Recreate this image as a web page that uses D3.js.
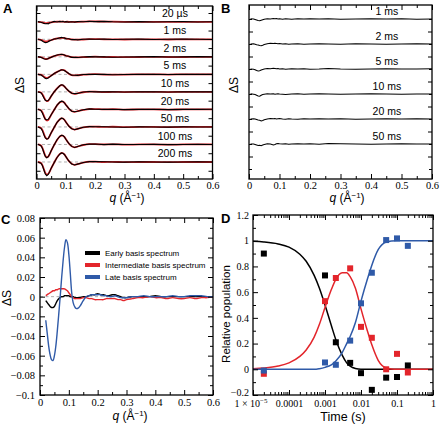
<!DOCTYPE html>
<html><head><meta charset="utf-8">
<script src="https://cdn.jsdelivr.net/npm/d3@7"></script>
<style>body{margin:0;background:#fff}svg{display:block}</style>
</head><body>
<svg id="chart" width="440" height="425"></svg>
<script>
// ---------------- DATA ----------------
const qGrid = [0.005,0.015,0.02,0.025,0.03,0.035,0.04,0.045,0.05,0.06,0.07,0.08,0.085,0.09,0.095,0.1,0.11,0.12,0.13,0.14,0.16,0.18,0.2,0.23,0.26,0.3,0.35,0.4,0.45,0.5,0.55,0.6];
const timesA = ["20 µs","1 ms","2 ms","5 ms","10 ms","20 ms","50 ms","100 ms","200 ms"];
const fit20us = [0,-0.002,-0.004,-0.006,-0.008,-0.008,-0.007,-0.005,-0.003,0,0.001,0.001,0.001,0.001,0,0,0,-0.001,-0.001,0,0.001,0.002,0.002,0.001,0.001,0,0,0,0,0,0,0];
const fit1ms = [0,-0.003,-0.006,-0.01,-0.012,-0.012,-0.01,-0.007,-0.004,0.001,0.005,0.007,0.008,0.008,0.007,0.005,0.002,-0.001,-0.002,-0.002,-0.001,0.001,0.001,0,0,-0.001,0,0,-0.001,0,0,0];
const fit2ms = [0,-0.002,-0.005,-0.009,-0.012,-0.012,-0.01,-0.006,-0.002,0.004,0.009,0.012,0.013,0.012,0.01,0.007,0.002,-0.002,-0.003,-0.003,-0.002,0,0.001,-0.001,-0.001,-0.002,-0.001,0,-0.001,-0.001,0,0];
const fit5ms = [0,-0.002,-0.006,-0.012,-0.018,-0.02,-0.018,-0.013,-0.007,0.004,0.014,0.022,0.025,0.026,0.023,0.017,0.004,-0.004,-0.006,-0.005,-0.002,0,0.001,-0.001,-0.001,-0.001,0,0,-0.001,0,0,0];
const fit10ms = [0,-0.004,-0.013,-0.029,-0.045,-0.052,-0.05,-0.039,-0.025,-0.001,0.02,0.035,0.038,0.037,0.031,0.022,0.004,-0.007,-0.011,-0.008,-0.002,0.001,0.001,-0.001,0,-0.001,0,0,-0.001,0,0,0];
const fit20ms = [0,-0.005,-0.016,-0.035,-0.055,-0.063,-0.06,-0.047,-0.031,-0.003,0.023,0.041,0.045,0.044,0.038,0.027,0.005,-0.009,-0.014,-0.01,-0.003,0.002,0.002,0,0.001,-0.001,0,0,-0.001,0,0,0];
const fit50ms = [0,-0.006,-0.017,-0.038,-0.059,-0.068,-0.065,-0.051,-0.034,-0.004,0.025,0.044,0.049,0.048,0.041,0.029,0.006,-0.009,-0.015,-0.011,-0.003,0.002,0.002,0,0.001,-0.001,0,0,-0.001,0,0,0];
const fit100ms = [0,-0.006,-0.019,-0.042,-0.064,-0.073,-0.069,-0.055,-0.037,-0.004,0.026,0.046,0.051,0.05,0.043,0.031,0.006,-0.01,-0.016,-0.012,-0.003,0.002,0.002,0,0.001,-0.001,0,0,-0.001,0,0,0];
const fit200ms = [0,-0.006,-0.018,-0.04,-0.062,-0.072,-0.068,-0.054,-0.036,-0.004,0.026,0.046,0.051,0.05,0.043,0.031,0.006,-0.01,-0.016,-0.012,-0.003,0.002,0.002,0,0.001,-0.001,0,0,-0.001,0,0,0];
const dat20us = [0.001,-0.003,-0.006,-0.009,-0.011,-0.01,-0.012,-0.006,-0.004,0.002,-0.001,0.002,0,0.002,-0.001,0.001,-0.002,0,-0.002,0.001,0,0.003,0.001,0.002,0,-0.001,0.001,-0.001,0,0.001,-0.001,0];
const dat1ms = [0,-0.004,-0.01,-0.016,-0.019,-0.018,-0.014,-0.008,-0.005,0.002,0.004,0.009,0.011,0.009,0.008,0.004,0.003,-0.002,-0.001,-0.003,0,0.002,0,0.001,-0.001,0,0.001,-0.001,0,0.001,0,-0.001];
const dat2ms = [0.001,-0.003,-0.007,-0.011,-0.014,-0.013,-0.01,-0.005,-0.003,0.005,0.01,0.013,0.015,0.013,0.011,0.006,0.003,-0.003,-0.002,-0.004,-0.001,0.001,0,0,-0.002,-0.001,0,0.001,-0.001,0,0.001,0];
const dat5ms = [0,-0.003,-0.009,-0.016,-0.023,-0.025,-0.021,-0.014,-0.008,0.005,0.013,0.022,0.026,0.025,0.022,0.016,0.005,-0.005,-0.005,-0.006,-0.001,0.001,0,0,-0.002,-0.001,0.001,0,-0.001,0.001,0,0];
const dat10ms = [0,-0.005,-0.016,-0.033,-0.048,-0.052,-0.049,-0.038,-0.024,0,0.019,0.036,0.04,0.039,0.031,0.021,0.005,-0.008,-0.01,-0.009,-0.001,0.002,0,0,0.001,-0.001,0.001,0,-0.001,0,0.001,0];
const dat20ms = [0.001,-0.006,-0.02,-0.04,-0.056,-0.06,-0.057,-0.045,-0.03,-0.003,0.024,0.042,0.047,0.045,0.038,0.026,0.006,-0.01,-0.013,-0.01,-0.002,0.003,0.001,0,0.001,-0.001,0,0.001,-0.001,0,0,0.001];
const dat50ms = [0,-0.007,-0.021,-0.043,-0.063,-0.07,-0.066,-0.05,-0.033,-0.003,0.026,0.045,0.05,0.048,0.041,0.028,0.005,-0.01,-0.016,-0.011,-0.002,0.002,0.001,0.001,0,-0.002,0.001,0,-0.001,0.001,0,0];
const dat100ms = [0.001,-0.007,-0.022,-0.046,-0.068,-0.076,-0.07,-0.054,-0.036,-0.003,0.027,0.047,0.052,0.051,0.043,0.03,0.006,-0.011,-0.017,-0.012,-0.002,0.002,0.003,-0.001,0.002,0,0,0.001,-0.001,0,0.001,0];
const dat200ms = [0,-0.007,-0.02,-0.044,-0.068,-0.078,-0.071,-0.055,-0.035,-0.004,0.026,0.046,0.052,0.05,0.043,0.031,0.006,-0.011,-0.017,-0.012,-0.003,0.002,0.002,0.001,0,-0.001,0.001,0,-0.001,0,0.001,0];
const timesB = ["1 ms","2 ms","5 ms","10 ms","20 ms","50 ms"];
const res1ms = [0.001,0,-0.002,-0.004,-0.006,-0.007,-0.005,-0.003,-0.001,0.001,0,0.002,0.001,0.002,0,0.001,-0.001,0.001,0,-0.001,0.001,0,0.001,0,0.001,-0.001,0,0.001,0,0.001,-0.001,0];
const res2ms = [0,0.001,-0.001,-0.003,-0.004,-0.006,-0.007,-0.005,-0.002,0.001,0.003,0.002,0.003,0.002,0.001,0.002,0,0.001,-0.001,0,0.001,-0.001,0,0.001,0,-0.001,0.001,0,-0.001,0,0.001,0];
const res5ms = [0,-0.001,-0.003,-0.006,-0.008,-0.007,-0.004,-0.002,0,0.002,0.001,0.003,0.002,0.001,0.002,0,0.001,-0.001,0,0.001,0,0.001,-0.001,0,0.002,0,-0.001,0,0.001,0,0,0.001];
const res10ms = [0.001,-0.001,-0.002,-0.005,-0.008,-0.009,-0.005,-0.002,-0.001,0.001,0,0.001,-0.001,0,0.001,0,-0.001,-0.002,-0.001,0,0.001,-0.001,0,0.001,0,-0.001,0,0.001,0,-0.001,0,0];
const res20ms = [0,0.001,0,-0.002,-0.004,-0.005,-0.008,-0.006,-0.003,0,0.002,0.001,0.002,0,0.001,0.002,0,-0.001,0.001,0,-0.001,0.001,0,0.001,0,0.001,-0.001,0,0.001,0,0.001,0];
const res50ms = [0,0,-0.002,-0.004,-0.006,-0.005,-0.007,-0.004,-0.002,0.001,0,-0.004,-0.002,0.001,0.002,0.001,0,0.001,-0.001,0,0.001,0,0.001,-0.001,0.002,0.001,0,-0.001,0,0.001,0,0];
const qC = [0.02,0.025,0.03,0.035,0.04,0.045,0.05,0.055,0.06,0.065,0.07,0.075,0.08,0.085,0.09,0.095,0.1,0.105,0.11,0.115,0.12,0.125,0.13,0.135,0.14,0.15,0.16,0.17,0.18,0.19,0.2,0.21,0.22,0.23,0.24,0.25,0.26,0.27,0.28,0.29,0.3,0.32,0.34,0.36,0.38,0.4,0.42,0.44,0.46,0.48,0.5,0.52,0.54,0.56,0.58,0.6];
const earlyBasis = [-0.004,-0.006,-0.008,-0.01,-0.011,-0.011,-0.01,-0.007,-0.004,-0.002,-0.001,0,0,0.001,0.001,0.001,0.001,0,0,0,-0.001,-0.001,-0.001,-0.001,-0.001,0,0,0.001,0.002,0.002,0.003,0.002,0.002,0.001,0.001,0.002,0.002,0.001,0,-0.001,-0.001,0,0,0,0,0.001,0,0,0,0,0,0,0,0,0,0];
const intermediateBasis = [0.001,0.002,0.003,0.004,0.005,0.006,0.006,0.007,0.007,0.008,0.008,0.008,0.008,0.008,0.007,0.006,0.004,0.002,0,-0.001,-0.002,-0.002,-0.002,-0.002,-0.002,-0.001,-0.001,-0.002,-0.002,-0.003,-0.003,-0.003,-0.003,-0.002,-0.002,-0.002,-0.002,-0.003,-0.003,-0.004,-0.003,-0.002,-0.001,-0.001,0,-0.001,-0.001,-0.002,-0.001,-0.002,-0.002,-0.001,-0.002,-0.001,-0.001,0];
const lateBasis = [-0.024,-0.037,-0.05,-0.059,-0.064,-0.065,-0.06,-0.05,-0.035,-0.018,0,0.019,0.036,0.05,0.058,0.055,0.043,0.024,0.004,-0.006,-0.01,-0.012,-0.012,-0.011,-0.009,-0.004,0,0.001,0.002,0.002,0.002,0.002,0.001,0.001,0,0,0.001,0,-0.001,-0.001,-0.001,0,0,0.001,0,0,0,0,0.001,0,0,0.001,0.001,0.001,0,0];
const legendC = ["Early basis spectrum","Intermediate basis spectrum","Late basis spectrum"];
const timesD = [2e-5,1e-3,2e-3,5e-3,0.01,0.02,0.05,0.1,0.2];
const earlyPop = [0.90,0.73,0.21,0.05,-0.03,-0.16,-0.065,-0.06,0.03];
const intermediatePop = [-0.035,0.53,0.71,0.785,0.33,0.245,0.0,0.12,-0.025];
const latePop = [-0.01,0.053,0.035,0.223,0.513,0.751,1.005,1.018,0.96];
const fitTimes = [1e-5,2e-5,5e-5,1e-4,2e-4,3e-4,5e-4,7e-4,1e-3,1.5e-3,2e-3,3e-3,4e-3,5e-3,7e-3,1e-2,1.5e-2,2e-2,3e-2,5e-2,7e-2,0.1,0.2,0.5,1];
const earlyFit = [0.995,0.99,0.975,0.95,0.895,0.84,0.73,0.63,0.5,0.34,0.23,0.11,0.05,0.025,0.006,0,0,0,0,0,0,0,0,0,0];
const intermediateFit = [0.005,0.01,0.025,0.05,0.1,0.15,0.25,0.35,0.48,0.62,0.7,0.75,0.75,0.72,0.63,0.47,0.3,0.19,0.07,0.01,0.002,0,0,0,0];
const lateFit = [0,0,0,0,0,0,0,0.005,0.015,0.035,0.065,0.13,0.2,0.255,0.364,0.53,0.7,0.81,0.93,0.99,0.998,1,1,1,1];
const qTicks = [0,0.1,0.2,0.3,0.4,0.5,0.6];
const yTicksC = [-0.1,-0.08,-0.06,-0.04,-0.02,0,0.02,0.04,0.06,0.08];
const yTicksD = [-0.2,0,0.2,0.4,0.6,0.8,1,1.2];
const xTicksD = [1e-5,1e-4,1e-3,1e-2,0.1,1];
const xTickLabelsD = ["1 × 10^-5","0.0001","0.001","0.01","0.1","1"];

// ---------------- DRAWING ----------------
const svg = d3.select("#chart");
const SERIF = "'Liberation Serif','DejaVu Serif','Times New Roman',serif";
const SANS = "'Liberation Sans',Arial,Helvetica,sans-serif";
const RED = "#e3252b", BLUE = "#2f5aa8", GRAY = "#9a9a9a";

function drawAxes(o){
  const g = svg.append("g");
  const [x0,x1] = o.x.range(), [y0,y1] = o.y.range();
  const mk = (fn, scale, vals, len, fmt, tr, pad) => {
    const a = fn(scale).tickValues(vals).tickSize(-len).tickSizeOuter(0).tickPadding(pad||4)
      .tickFormat(fmt || (() => ""));
    const ag = g.append("g").attr("transform", tr).call(a);
    ag.select(".domain").remove();
    ag.attr("font-family",null).attr("font-size",null);
    ag.selectAll("line").attr("stroke","#000").attr("stroke-width",1);
    ag.selectAll("text").style("font-family",SERIF).style("font-size",(o.fs||11)+"px").attr("fill","#000");
    return ag;
  };
  const bx = mk(d3.axisBottom, o.x, o.xMajor, 5, o.xFmt, `translate(0,${y0})`, o.xPad);
  if (o.xMinor) mk(d3.axisBottom, o.x, o.xMinor, 3, null, `translate(0,${y0})`);
  mk(d3.axisTop, o.x, o.xMajor, 5, null, `translate(0,${y1})`);
  if (o.xMinor) mk(d3.axisTop, o.x, o.xMinor, 3, null, `translate(0,${y1})`);
  const ly = mk(d3.axisLeft, o.y, o.yMajor, o.yLen||5, o.yFmt, `translate(${x0},0)`, o.yPad);
  if (o.yMinor) mk(d3.axisLeft, o.y, o.yMinor, 3, null, `translate(${x0},0)`);
  mk(d3.axisRight, o.y, o.yMajor, o.yLen||5, null, `translate(${x1},0)`);
  if (o.yMinor) mk(d3.axisRight, o.y, o.yMinor, 3, null, `translate(${x1},0)`);
  g.append("rect").attr("x",x0).attr("y",y1).attr("width",x1-x0).attr("height",y0-y1)
    .attr("fill","none").attr("stroke","#000").attr("stroke-width",1.3);
  return {g, bx, ly};
}
function qTitle(cx, y){
  const t = svg.append("text").attr("x",cx).attr("y",y).attr("text-anchor","middle")
    .style("font-family",SANS).style("font-size","12px").attr("fill","#000");
  t.append("tspan").attr("font-style","italic").text("q");
  t.append("tspan").text(" (Å");
  t.append("tspan").style("font-size","8px").attr("dy",-4.5).text("−1");
  t.append("tspan").attr("dy",4.5).text(")");
}
function yTitle(x, cy, txt, fs){
  svg.append("text").attr("transform",`translate(${x},${cy}) rotate(-90)`).attr("text-anchor","middle")
    .style("font-family",SANS).style("font-size",(fs||12)+"px").attr("fill","#000").text(txt);
}
function letter(x,y,t){
  svg.append("text").attr("x",x).attr("y",y).style("font-family",SANS).attr("font-weight","bold")
    .style("font-size","13px").attr("fill","#000").text(t);
}
const qFmt = d => d === 0 ? "0" : String(d);
const qMinor = [0.05,0.15,0.25,0.35,0.45,0.55];

// ---- Panel A ----
const xA = d3.scaleLinear().domain([0,0.6]).range([36.5,212.5]);
const yA = d3.scaleLinear().domain([-0.897,0.09]).range([179,6]);
const fitsA = [fit20us,fit1ms,fit2ms,fit5ms,fit10ms,fit20ms,fit50ms,fit100ms,fit200ms];
const datsA = [dat20us,dat1ms,dat2ms,dat5ms,dat10ms,dat20ms,dat50ms,dat100ms,dat200ms];
const gA = svg.append("g");
timesA.forEach((lab,i) => {
  const off = -0.1*i;
  gA.append("line").attr("x1",xA(0)).attr("x2",xA(0.6)).attr("y1",yA(off)).attr("y2",yA(off))
    .attr("stroke",GRAY).attr("stroke-width",0.8).attr("stroke-dasharray","3,2.5");
  const lf = d3.line().x((d,j)=>xA(qGrid[j])).y(d=>yA(d+off)).curve(d3.curveCatmullRom.alpha(0.5));
  const ld = d3.line().x((d,j)=>xA(qGrid[j])).y(d=>yA(d+off));
  gA.append("path").attr("d",lf(fitsA[i])).attr("fill","none").attr("stroke",RED).attr("stroke-width",1.8);
  gA.append("path").attr("d",ld(datsA[i])).attr("fill","none").attr("stroke","#000").attr("stroke-width",1.1);
  gA.append("text").attr("x",xA(0.472)).attr("y",yA(off+0.028)).attr("text-anchor","middle")
    .style("font-family",SANS).style("font-size","10.5px").attr("fill","#000").text(lab);
});
drawAxes({x:xA,y:yA,xMajor:qTicks,xMinor:qMinor,xFmt:qFmt,xPad:3,fs:10.5,
  yMajor:[0.05,-0.05,-0.15,-0.25,-0.35,-0.45,-0.55,-0.65,-0.75,-0.85],yLen:4});
qTitle(127,202);
yTitle(24,85,"ΔS");
letter(3,13,"A");

// ---- Panel B ----
const xB = d3.scaleLinear().domain([0,0.6]).range([249,432]);
const yB = d3.scaleLinear().domain([-0.64,0.056]).range([179,5]);
const resB = [res1ms,res2ms,res5ms,res10ms,res20ms,res50ms];
timesB.forEach((lab,i) => {
  const off = -0.1*i;
  const ld = d3.line().x((d,j)=>xB(qGrid[j])).y(d=>yB(d+off));
  svg.append("path").attr("d",ld(resB[i])).attr("fill","none").attr("stroke","#000").attr("stroke-width",1.1);
  svg.append("text").attr("x",xB(0.452)).attr("y",yB(off+0.016)).attr("text-anchor","middle")
    .style("font-family",SANS).style("font-size","10.5px").attr("fill","#000").text(lab);
});
drawAxes({x:xB,y:yB,xMajor:qTicks,xMinor:qMinor,xFmt:qFmt,xPad:3,fs:10.5,
  yMajor:[-0.05,-0.15,-0.25,-0.35,-0.45,-0.55],yMinor:[0,-0.1,-0.2,-0.3,-0.4,-0.5,-0.6],yLen:4});
qTitle(347,202);
yTitle(238,85,"ΔS");
letter(221,13,"B");

// ---- Panel C ----
const xC = d3.scaleLinear().domain([0,0.6]).range([40,213]);
const yC = d3.scaleLinear().domain([-0.1,0.08]).range([395,218]);
svg.append("line").attr("x1",xC(0)).attr("x2",xC(0.6)).attr("y1",yC(0)).attr("y2",yC(0))
  .attr("stroke",GRAY).attr("stroke-width",0.8).attr("stroke-dasharray","3,2.5");
const lineC = d3.line().x((d,j)=>xC(qC[j])).y(d=>yC(d)).curve(d3.curveCatmullRom.alpha(0.5));
[[earlyBasis,"#000"],[intermediateBasis,RED],[lateBasis,BLUE]].forEach(([arr,c]) => {
  svg.append("path").attr("d",lineC(arr)).attr("fill","none").attr("stroke",c).attr("stroke-width",1.4);
});
const legColors = ["#000",RED,BLUE];
legendC.forEach((t,i) => {
  const yy = 253 + i*12;
  svg.append("line").attr("x1",85).attr("x2",100).attr("y1",yy).attr("y2",yy).attr("stroke",legColors[i]).attr("stroke-width",4);
  svg.append("text").attr("x",105).attr("y",yy+3).style("font-family",SANS).style("font-size","8px").attr("fill","#000").text(t);
});
const fmtSigned = d => { const r = Math.round(d*100)/100; return r === 0 ? "0" : (r<0?"−":"") + String(Math.abs(r)); };
drawAxes({x:xC,y:yC,xMajor:qTicks,xMinor:qMinor,xFmt:qFmt,xPad:4,fs:10.5,
  yMajor:yTicksC,yMinor:[-0.09,-0.07,-0.05,-0.03,-0.01,0.01,0.03,0.05,0.07],yFmt:fmtSigned,yPad:5});
qTitle(130,420);
yTitle(11,298,"ΔS");
letter(1,224,"C");

// ---- Panel D ----
const xD = d3.scaleLog().domain([1e-5,1]).range([253,433]);
const yD = d3.scaleLinear().domain([-0.2,1.2]).range([395,215]);
const minorD = [];
[1e-5,1e-4,1e-3,1e-2,1e-1].forEach(dec => { for (let k=2;k<=9;k++) minorD.push(dec*k); });
const lineD = d3.line().x((d,j)=>xD(fitTimes[j])).y(d=>yD(d)).curve(d3.curveMonotoneX);
[[earlyFit,"#000"],[intermediateFit,RED],[lateFit,BLUE]].forEach(([arr,c]) => {
  svg.append("path").attr("d",lineD(arr)).attr("fill","none").attr("stroke",c).attr("stroke-width",1.5);
});
[[earlyPop,"#000"],[intermediatePop,RED],[latePop,BLUE]].forEach(([arr,c]) => {
  svg.append("g").selectAll("rect").data(arr).join("rect")
    .attr("x",(d,j)=>xD(timesD[j])-3).attr("y",d=>yD(d)-3).attr("width",6).attr("height",6).attr("fill",c);
});
const axD = drawAxes({x:xD,y:yD,xMajor:xTicksD,xMinor:minorD,xFmt:(d,i)=>xTickLabelsD[i],xPad:5,fs:10,
  yMajor:yTicksD,yMinor:[-0.1,0.1,0.3,0.5,0.7,0.9,1.1],yFmt:fmtSigned,yPad:4});
axD.ly.selectAll("text").filter(d => d === -0.2).attr("dy","0.05em");
axD.bx.selectAll("text").filter(d => d === 1e-5).each(function(){
  const t = d3.select(this); t.text(null).attr("text-anchor","end").attr("x",14);
  t.append("tspan").text("1 × 10");
  t.append("tspan").style("font-size","7px").attr("dy",-4).text("−5");
});
svg.append("text").attr("x",343).attr("y",421).attr("text-anchor","middle").style("font-family",SANS)
  .style("font-size","12.5px").attr("fill","#000").text("Time (s)");
yTitle(230,314,"Relative population",11.5);
svg.append("rect").attr("x",220).attr("y",211).attr("width",13).attr("height",13).attr("fill","#fff");
letter(221,223,"D");
</script>
</body></html>
